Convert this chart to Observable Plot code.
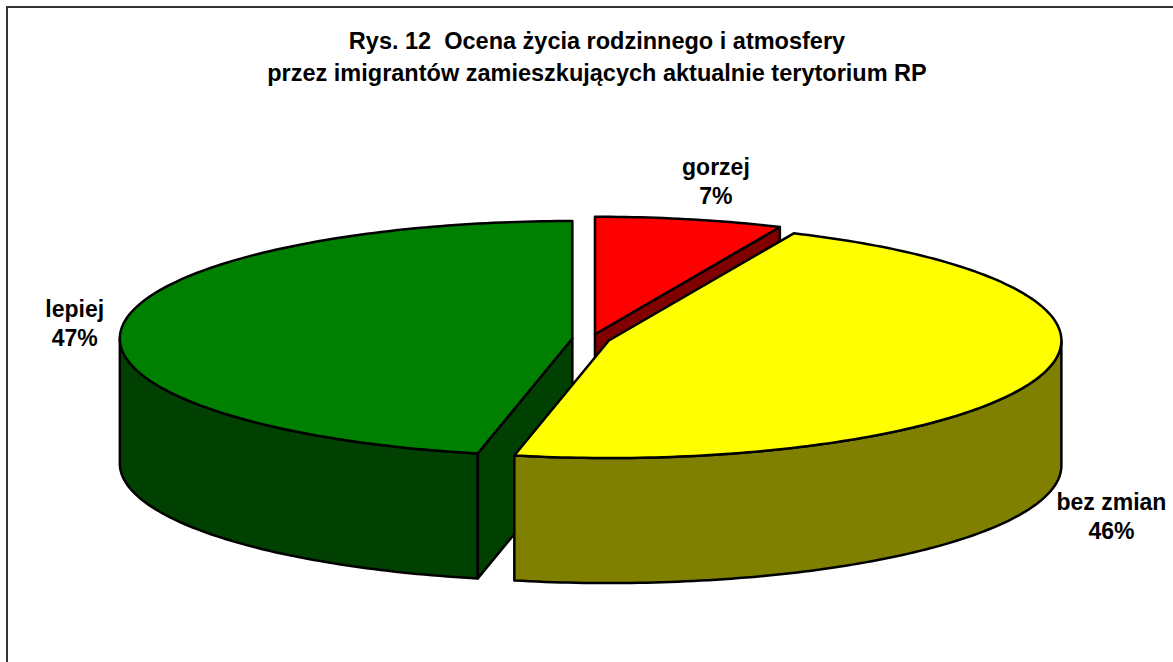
<!DOCTYPE html>
<html lang="pl">
<head>
<meta charset="utf-8">
<script src="https://cdn.jsdelivr.net/npm/d3@7"></script>
<script src="https://cdn.jsdelivr.net/npm/@observablehq/plot@0.6"></script>
<style>
  html, body { margin: 0; padding: 0; background: #fff; overflow: hidden; width: 1173px; height: 662px; }
  #title { height: 100px; box-sizing: border-box; padding-top: 25px; padding-left: 21px; text-align: center;
           font: bold 23.5px/32px "Liberation Sans", Arial, sans-serif; color: #000; width: 1173px; white-space: nowrap; }
  #frame { position: absolute; left: 6px; top: 6px; width: 1200px; height: 700px; border: 2px solid #333; box-sizing: border-box; pointer-events: none; }
  svg { display: block; }
</style>
</head>
<body>
<div id="title">Rys. 12&nbsp; Ocena życia rodzinnego i atmosfery<br>przez imigrantów zamieszkujących aktualnie terytorium RP</div>
<div id="chart"></div>
<div id="frame"></div>
<script>
// Data, clockwise from 12 o'clock
const categories = ["gorzej", "bez zmian", "lepiej"];
const shares = [6.7, 46.65, 46.65];         // slice sizes
const percentLabels = ["7%", "46%", "47%"]; // labels as printed
const topColors = ["#ff0000", "#ffff00", "#008000"];
const sideColors = ["#800000", "#808000", "#004000"];

// Model geometry, in pie radii (x) and tilted radii (y)
const explode = 0.0415;
const depth = 1.064;
const labelX = [0.276, 1.15, -1.141];
const labelY = [1.35, -1.5, 0.14];

const rad = d => d * Math.PI / 180;
const total = d3.sum(shares);
let acc = 0;
const slices = categories.map((name, i) => {
  const start = acc / total * 360;
  acc += shares[i];
  const end = acc / total * 360;
  const mid = rad((start + end) / 2);
  return {name, start, end, cx: explode * Math.sin(mid), cy: explode * Math.cos(mid),
          top: topColors[i], side: sideColors[i]};
});

const rim = (s, t, drop = 0) => [s.cx + Math.sin(rad(t)), s.cy + Math.cos(rad(t)) - drop];
const arc = (s, a, b, drop = 0) => {
  const n = Math.max(1, Math.ceil(Math.abs(b - a)));
  return d3.range(n + 1).map(k => rim(s, a + (b - a) * k / n, drop));
};
const closed = pts => [...pts, pts[0]];
const shape = (pts, fill) => Plot.line(closed(pts), {
  x: d => d[0], y: d => d[1], fill, stroke: "#000", strokeWidth: 2.5, strokeLinejoin: "round"
});

function sliceMarks(s) {
  const marks = [];
  // outer wall, only the part that faces the viewer
  const a = Math.max(s.start, 90), b = Math.min(s.end, 270);
  if (b > a) marks.push(shape([...arc(s, a, b), ...arc(s, b, a, depth)], s.side));
  // cut faces that face the viewer
  const centre = [s.cx, s.cy], centreLow = [s.cx, s.cy - depth];
  if (Math.sin(rad(s.start)) < -1e-6)
    marks.push(shape([centre, rim(s, s.start), rim(s, s.start, depth), centreLow], s.side));
  if (Math.sin(rad(s.end)) > 1e-6)
    marks.push(shape([centre, rim(s, s.end), rim(s, s.end, depth), centreLow], s.side));
  // top face
  marks.push(shape([centre, ...arc(s, s.start, s.end)], s.top));
  return marks;
}

const labels = categories.map((c, i) => ({x: labelX[i], y: labelY[i], text: c + "\n" + percentLabels[i]}));
const drawOrder = [2, 0, 1]; // green, red, yellow: yellow covers the red wall

const plot = Plot.plot({
  width: 1173,
  height: 562,
  margin: 0,
  style: {background: "transparent"},
  x: {domain: [-1.305, 1.2872], axis: null},
  y: {domain: [-2.753, 2.03], axis: null},
  marks: [
    ...drawOrder.flatMap(i => sliceMarks(slices[i])),
    Plot.text(labels, {
      x: "x", y: "y", text: "text", fontSize: 23, fontWeight: "bold",
      fontFamily: "Liberation Sans, Arial, sans-serif", fill: "#000",
      lineHeight: 1.26, lineAnchor: "middle", textAnchor: "middle"
    })
  ]
});
document.getElementById("chart").appendChild(plot);
</script>
</body>
</html>
